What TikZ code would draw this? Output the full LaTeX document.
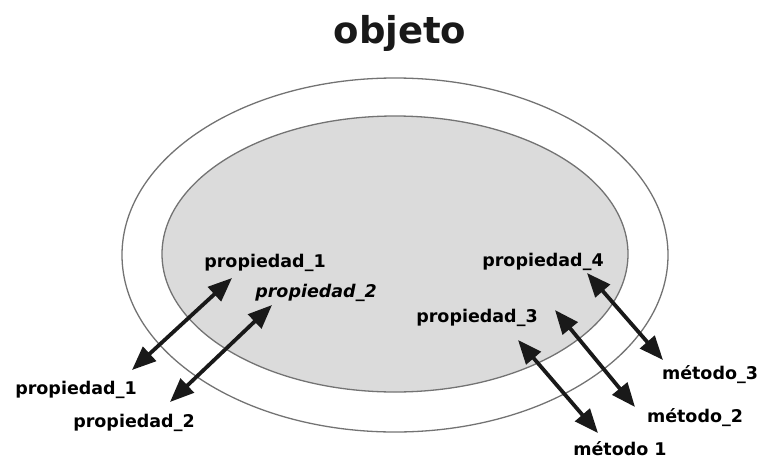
\documentclass[tikz,border=0pt]{standalone}
\usepackage{fontspec}
\setmainfont{DejaVu Sans}
\usetikzlibrary{arrows.meta}

\tikzset{
  lbl/.style={font=\bfseries\fontsize{17.5}{20}\selectfont, inner sep=1pt},
  link/.style={line width=3.8pt, draw=black!90,
    {Triangle[length=24pt,width=19pt]}-{Triangle[length=24pt,width=19pt]}},
  rim/.style={draw=black!55, line width=1.3pt}
}

\begin{document}
\begin{tikzpicture}[x=1pt,y=-1pt]
\useasboundingbox (0,0) rectangle (763,461);

\node[font=\bfseries\fontsize{37}{40}\selectfont, text=black!90] (title) at (400,33) {objeto};

\draw[rim] (395,255) ellipse [x radius=273pt, y radius=177pt];
\draw[rim, fill=black!14] (395,254) ellipse [x radius=233pt, y radius=138pt];

\node[lbl] (pin1) at (265,263) {propiedad\_1};
\node[lbl, font=\bfseries\itshape\fontsize{17.5}{20}\selectfont] (pin2) at (316,293) {propiedad\_2};
\node[lbl] (pin3) at (477,318) {propiedad\_3};
\node[lbl] (pin4) at (543,262) {propiedad\_4};
\node[lbl] (pout1) at (76,390) {propiedad\_1};
\node[lbl] (pout2) at (134,423) {propiedad\_2};
\node[lbl] (met3) at (710,375) {método\_3};
\node[lbl] (met2) at (695,418) {método\_2};
\node[lbl] (met1) at (620,449) {método 1};

\coordinate (a1) at (132,370);
\coordinate (b1) at (232,278);
\coordinate (a2) at (170,402);
\coordinate (b2) at (272,305);
\coordinate (a3) at (587,273);
\coordinate (b3) at (663,360);
\coordinate (a4) at (555,310);
\coordinate (b4) at (635,407);
\coordinate (a5) at (518,340);
\coordinate (b5) at (598,433);

\draw[link] (a1) -- (b1);
\draw[link] (a2) -- (b2);
\draw[link] (a3) -- (b3);
\draw[link] (a4) -- (b4);
\draw[link] (a5) -- (b5);
\end{tikzpicture}
\end{document}
